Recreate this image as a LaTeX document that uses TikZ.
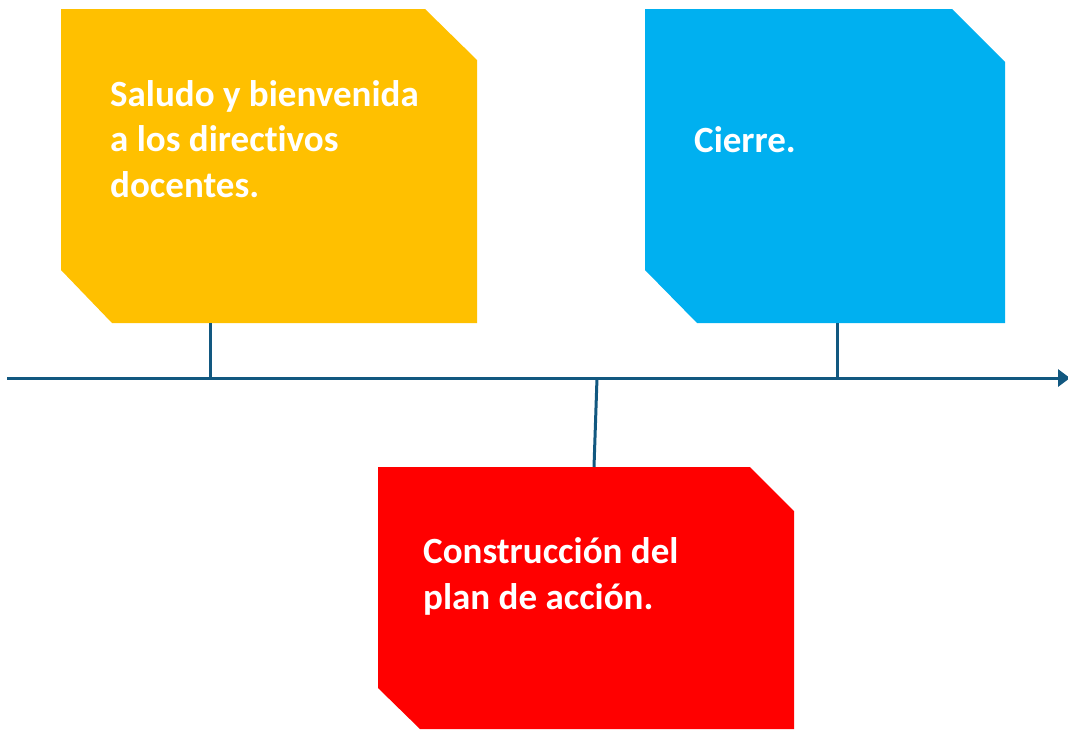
\documentclass[tikz,border=0pt]{standalone}
\usepackage{fontspec}
\setmainfont{Carlito}[Ligatures={NoCommon}]
\usetikzlibrary{arrows.meta,calc}
\definecolor{cyel}{RGB}{255,192,0}
\definecolor{cblue}{RGB}{0,176,240}
\definecolor{cred}{RGB}{255,0,0}
\definecolor{cline}{RGB}{18,88,128}
\tikzset{
  boxarea/.style={inner sep=0pt, outer sep=0pt},
  label text/.style={anchor=base west, inner sep=0pt, text=white, align=left,
    font=\fontsize{37}{45.5}\selectfont\bfseries},
  link/.style={draw=cline, line width=3pt},
}
\begin{document}
\begin{tikzpicture}[x=1pt,y=-1pt]
\useasboundingbox (0,0) rectangle (1068,729);
% boxes
\fill[cyel] (61,9) -- (425,9) -- (477,60) -- (477,323) -- (112,323) -- (61,270) -- cycle;
\fill[cblue] (645,9) -- (952,9) -- (1005,62) -- (1005,323) -- (697,323) -- (645,270) -- cycle;
\fill[cred] (378,467) -- (750,467) -- (794,511) -- (794,729) -- (420,729) -- (378,688) -- cycle;
\node[boxarea, minimum width=416pt, minimum height=314pt] (b1) at (269,166) {};
\node[boxarea, minimum width=360pt, minimum height=314pt] (b3) at (825,166) {};
\node[boxarea, minimum width=416pt, minimum height=262pt] (b2) at (586,598) {};
% texts (anchored at baseline of last line)
\node[label text] (t1) at (110,197) {Saludo y bienvenida\\a los directivos\\docentes.};
\node[label text] (t3) at (694,152) {Cierre.};
\node[label text] (t2) at (423,609) {Construcción del\\plan de acción.};
% timeline
\coordinate (start) at (7,378);
\coordinate (end) at (1070,378);
\coordinate (p1) at (210,378);
\coordinate (p2) at (597,378);
\coordinate (p3) at (837,378);
\draw[link, -{Triangle[length=12pt,width=17pt]}] (start) -- (end);
\draw[link] (b1.south -| p1) -- (p1);
\draw[link] (b3.south -| p3) -- (p3);
\draw[link] (p2) -- ($(b2.north)+(8,0)$);
\end{tikzpicture}
\end{document}
